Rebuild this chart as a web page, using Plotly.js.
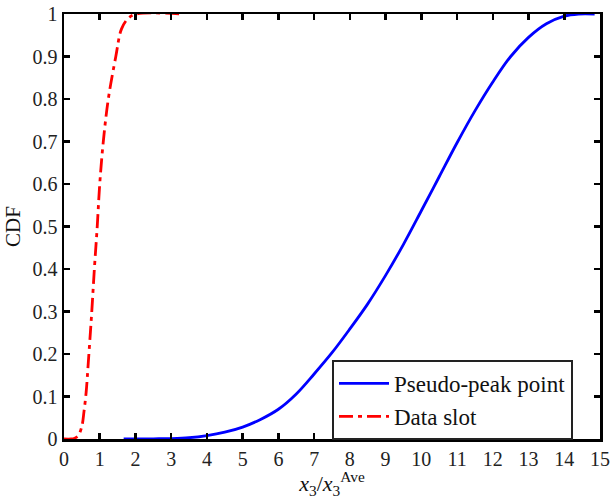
<!DOCTYPE html>
<html>
<head>
<meta charset="utf-8">
<script src="https://cdn.plot.ly/plotly-3.0.1.min.js"></script>
<style>html,body{margin:0;padding:0;background:#fff;}#chart{width:610px;height:499px;}</style>
</head>
<body>
<div id="chart"></div>
<script>
// Pseudo-peak point CDF
const peakX = [1.67, 2.5, 3.0, 3.5, 4.0, 4.5, 5.0, 5.5, 6.0, 6.5, 7.0, 7.5, 8.0, 8.5, 9.0, 9.5, 10.0, 10.5, 11.0, 11.5, 12.0, 12.5, 13.0, 13.5, 14.0, 14.4, 14.85];
const peakY = [0, 0.0005, 0.001, 0.003, 0.008, 0.016, 0.028, 0.046, 0.07, 0.106, 0.153, 0.203, 0.259, 0.318, 0.385, 0.458, 0.537, 0.617, 0.697, 0.772, 0.84, 0.9, 0.945, 0.977, 0.995, 1.0, 1.0];
// Data slot CDF
const slotX = [0, 0.2, 0.3, 0.4, 0.5, 0.56, 0.62, 0.68, 0.77, 0.85, 0.93, 1.0, 1.1, 1.24, 1.45, 1.61, 1.8, 2.03, 3.3];
const slotY = [0, 0, 0.002, 0.008, 0.03, 0.065, 0.11, 0.18, 0.29, 0.4, 0.5, 0.6, 0.7, 0.8, 0.9, 0.965, 0.99, 1.0, 1.0];
const seriesNames = ["Pseudo-peak point", "Data slot"];
const xTicks = [0,1,2,3,4,5,6,7,8,9,10,11,12,13,14,15];
const yTicks = [0,0.1,0.2,0.3,0.4,0.5,0.6,0.7,0.8,0.9,1];

const font = "'Liberation Serif', 'Times New Roman', Times, serif";
const traces = [
  {x: peakX, y: peakY, name: seriesNames[0], mode: "lines", line: {color: "#0000ff", width: 2.8, shape: "spline"}},
  {x: slotX, y: slotY, name: seriesNames[1], mode: "lines", line: {color: "#ff0000", width: 2.8, dash: "14px,5px,4px,5px", shape: "spline"}}
];
const axisCommon = {
  showline: true, linecolor: "#000", linewidth: 2.5, mirror: "ticks",
  ticks: "inside", ticklen: 6, tickwidth: 2.5, tickcolor: "#000",
  showgrid: false, zeroline: false,
  tickfont: {family: font, size: 20, color: "#222"}
};
const layout = {
  width: 610, height: 499,
  font: {family: font},
  margin: {l: 64, r: 10, t: 14, b: 60},
  paper_bgcolor: "#fff", plot_bgcolor: "#fff",
  showlegend: true,
  legend: {
    x: 0.5, y: 0.186, xanchor: "left", yanchor: "top",
    bgcolor: "#fff", bordercolor: "#222", borderwidth: 2,
    font: {family: font, size: 23, color: "#111"},
    itemwidth: 50, tracegroupgap: 0
  },
  xaxis: Object.assign({}, axisCommon, {
    range: [0, 15], tickvals: xTicks, ticktext: xTicks.map(String),
    title: {text: "<i>x</i><sub>3</sub>/<i>x</i><sub>3</sub><sup>Ave</sup>", font: {family: font, size: 22, color: "#111"}, standoff: 2}
  }),
  yaxis: Object.assign({}, axisCommon, {
    range: [0, 1], tickvals: yTicks, ticktext: yTicks.map(String),
    title: {text: "CDF", font: {family: font, size: 21, color: "#111"}, standoff: 6}
  })
};
Plotly.newPlot("chart", traces, layout, {displayModeBar: false, staticPlot: true});
</script>
</body>
</html>
